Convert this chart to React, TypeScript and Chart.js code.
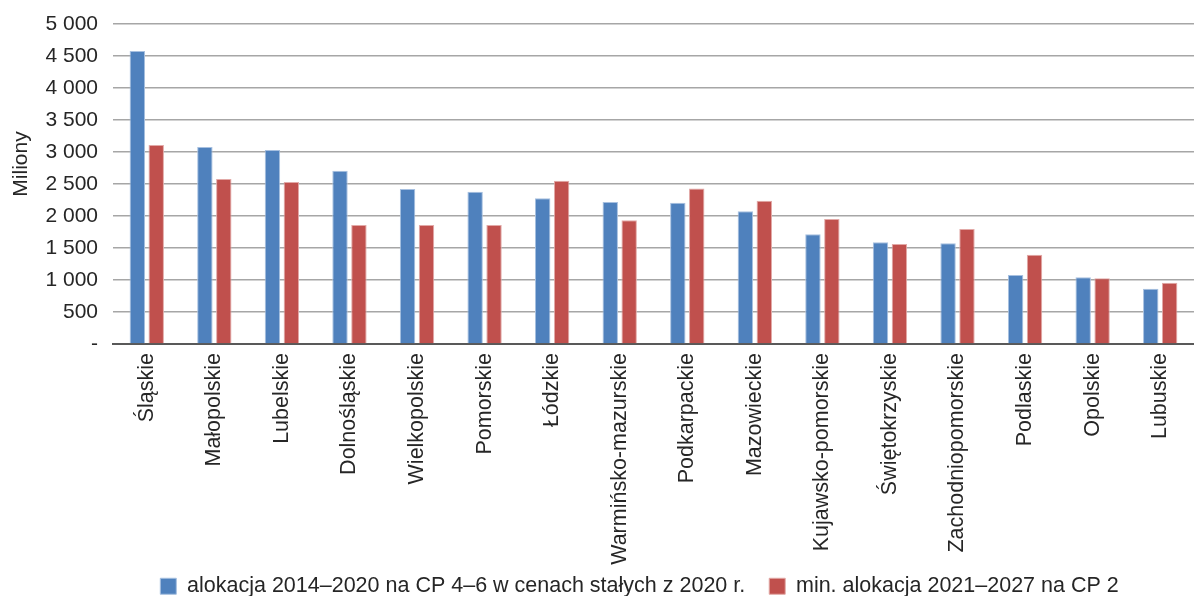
import React, { useEffect, useRef } from "react";
import { Chart, registerables } from "chart.js";

Chart.register(...registerables);

const categories = [
  "Śląskie",
  "Małopolskie",
  "Lubelskie",
  "Dolnośląskie",
  "Wielkopolskie",
  "Pomorskie",
  "Łódzkie",
  "Warmińsko-mazurskie",
  "Podkarpackie",
  "Mazowieckie",
  "Kujawsko-pomorskie",
  "Świętokrzyskie",
  "Zachodniopomorskie",
  "Podlaskie",
  "Opolskie",
  "Lubuskie",
];

const alloc2014 = [4580, 3078, 3031, 2706, 2422, 2380, 2276, 2219, 2208, 2073, 1714, 1589, 1573, 1078, 1042, 865];
const alloc2021 = [3110, 2578, 2531, 1859, 1859, 1860, 2552, 1932, 2430, 2240, 1953, 1562, 1797, 1396, 1026, 958];

const seriesLabels = [
  "alokacja 2014–2020 na CP 4–6 w cenach stałych z 2020 r.",
  "min. alokacja 2021–2027 na CP 2",
];

const yTitle = "Miliony";

const FONT = "'Liberation Sans', Arial, sans-serif";
const TEXT = "#262626";

function fmt(v: number): string {
  if (v === 0) return "-";
  return String(v).replace(/\B(?=(\d{3})+(?!\d))/g, " ");
}

const layoutTweaks = {
  id: "layoutTweaks",
  afterLayout(chart: any) {
    const x = chart.scales.x;
    if (x) {
      x.bottom = chart.height + 12;
      x.height = x.bottom - x.top;
    }
    const lg = chart.legend;
    if (lg) {
      lg.left = 84;
      lg.width = lg.right - lg.left;
    }
  },
  afterDraw(chart: any) {
    const ctx = chart.ctx;
    ctx.save();
    ctx.fillStyle = TEXT;
    ctx.font = `21px ${FONT}`;
    ctx.textAlign = "center";
    ctx.textBaseline = "middle";
    ctx.translate(21, 164);
    ctx.rotate(-Math.PI / 2);
    ctx.fillText(yTitle, 0, 0);
    ctx.restore();
  },
};

export default function App() {
  const ref = useRef<HTMLCanvasElement | null>(null);

  useEffect(() => {
    if (!ref.current) return;
    const chart = new Chart(ref.current, {
      type: "bar",
      data: {
        labels: categories,
        datasets: [
          {
            label: seriesLabels[0],
            data: alloc2014,
            backgroundColor: "#4F81BD",
            borderColor: "#A7C0E0",
            borderWidth: 1,
            categoryPercentage: 0.56,
            barPercentage: 0.815,
          },
          {
            label: seriesLabels[1],
            data: alloc2021,
            backgroundColor: "#C0504D",
            borderColor: "#E2A9A7",
            borderWidth: 1,
            categoryPercentage: 0.56,
            barPercentage: 0.815,
          },
        ],
      },
      options: {
        animation: false,
        responsive: false,
        maintainAspectRatio: false,
        layout: { padding: { top: 24, left: 0, right: 0, bottom: -11 } },
        plugins: {
          tooltip: { enabled: false },
          legend: {
            position: "bottom",
            labels: {
              boxWidth: 16,
              boxHeight: 16,
              padding: 24,
              color: TEXT,
              font: { family: FONT, size: 21.5 },
            },
          },
        },
        scales: {
          x: {
            grid: { display: false, drawTicks: false },
            border: { display: true, color: "#595959", width: 2 },
            ticks: {
              minRotation: 90,
              maxRotation: 90,
              autoSkip: false,
              padding: 9,
              color: TEXT,
              font: { family: FONT, size: 21.5 },
            },
            afterFit: (s: any) => {
              s.height = 207.5;
            },
          },
          y: {
            min: 0,
            max: 5000,
            grid: {
              color: "#A6A6A6",
              lineWidth: 1.5,
              drawTicks: true,
              tickLength: 12,
              tickColor: "rgba(0,0,0,0)",
            },
            border: { display: false },
            ticks: {
              stepSize: 500,
              padding: 3,
              color: TEXT,
              font: { family: FONT, size: 21 },
              callback: (v: any) => fmt(Number(v)),
            },
            afterFit: (s: any) => {
              s.width = 113;
            },
          },
        },
      },
      plugins: [layoutTweaks],
    });
    return () => chart.destroy();
  }, []);

  return (
    <div style={{ position: "fixed", left: 0, top: 0, width: 1195, height: 596, background: "#fff", overflow: "hidden" }}>
      <canvas ref={ref} width={1195} height={596} style={{ width: 1195, height: 596 }} />
    </div>
  );
}
